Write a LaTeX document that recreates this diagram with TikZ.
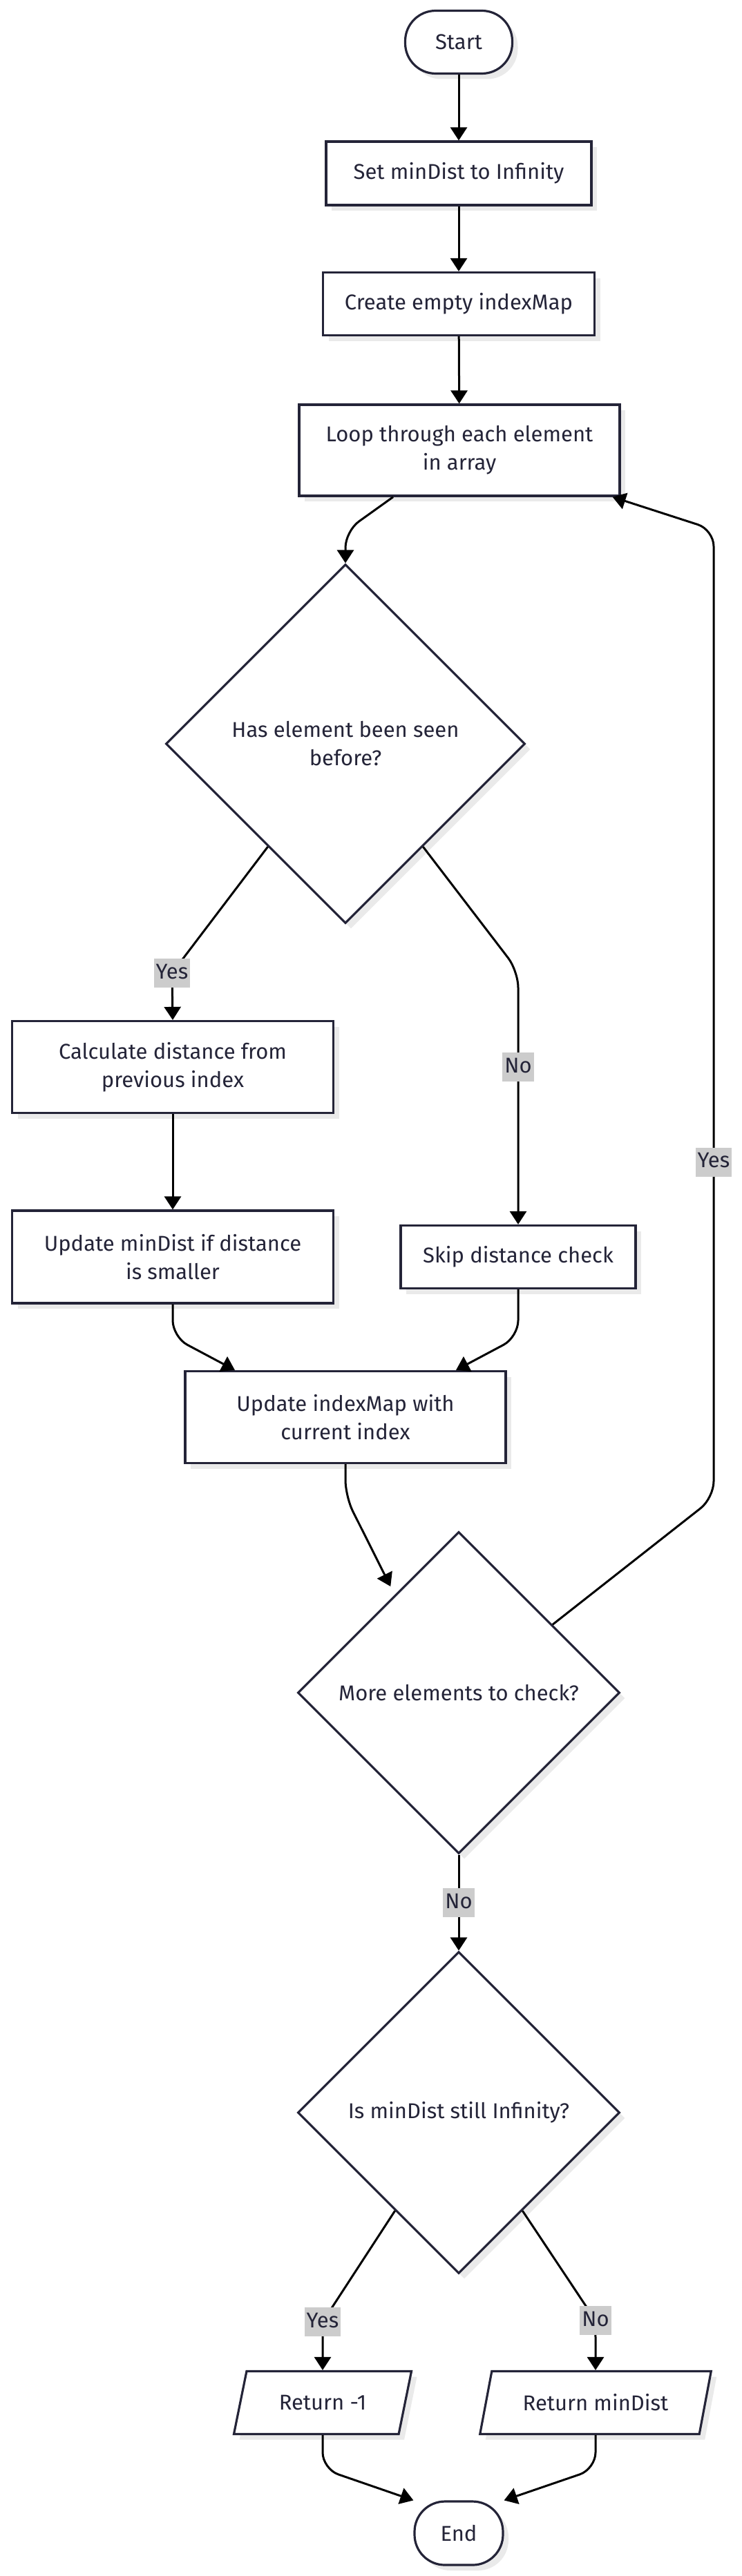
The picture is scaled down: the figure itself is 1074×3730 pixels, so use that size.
\documentclass[tikz,border=0pt]{standalone}
\usepackage{fontspec}
\setmainfont{Fira Sans}
\usetikzlibrary{arrows.meta,shapes.geometric,shadows}
\definecolor{inkline}{RGB}{36,36,56}
\definecolor{shadowgray}{RGB}{234,234,234}
\definecolor{labelgray}{RGB}{204,204,204}

\begin{document}
\begin{tikzpicture}[x=0.5pt,y=-0.5pt,
    font=\fontsize{15.5pt}{20.5pt}\selectfont,
    box/.style={draw=inkline, text=inkline, line width=1.6pt, fill=white,
      align=center, inner sep=0pt,
      drop shadow={shadow xshift=4pt, shadow yshift=-4pt, fill=shadowgray, opacity=1}},
    process/.style={box, rectangle},
    terminal/.style={box, rectangle, rounded corners=22pt, minimum height=45.5pt},
    decision/.style={box, diamond, aspect=1},
    io/.style={box, trapezium, trapezium left angle=64, trapezium right angle=116,
      trapezium stretches=true, minimum height=45.5pt},
    flow/.style={line width=1.5pt, black, rounded corners=12pt,
      -{Triangle[length=9.5pt,width=12pt]}},
    lbl/.style={fill=labelgray, text=inkline, sharp corners, inner xsep=1.5pt,
      inner ysep=4pt, text height=10.5pt, text depth=2.5pt}]
  \useasboundingbox (0,0) rectangle (1074,3730);

  \node (start) at (664,61) [terminal, minimum width=77.5pt] {Start};
  \node (setmin) at (664,251)
    [process, minimum width=192pt, minimum height=46pt] {Set minDist to Infinity};
  \node (mkmap) at (664,440)
    [process, minimum width=196.5pt, minimum height=45.5pt] {Create empty indexMap};
  \node (loop) at (665,652)
    [process, minimum width=232pt, minimum height=66pt] {Loop through each element\\in array};
  \node (seen) at (500,1077)
    [decision, minimum size=260pt] {Has element been seen\\before?};
  \node (calc) at (250,1545)
    [process, minimum width=232.5pt, minimum height=66.5pt] {Calculate distance from\\previous index};
  \node (upmin) at (250,1820)
    [process, minimum width=232.5pt, minimum height=67pt] {Update minDist if distance\\is smaller};
  \node (skip) at (750,1820)
    [process, minimum width=170pt, minimum height=45.5pt] {Skip distance check};
  \node (upmap) at (500,2052)
    [process, minimum width=232pt, minimum height=66.5pt] {Update indexMap with\\current index};
  \node (more) at (664,2451)
    [decision, minimum size=233pt] {More elements to check?};
  \node (mininf) at (664,3059)
    [decision, minimum size=233pt] {Is minDist still Infinity?};
  \node (retneg) at (467,3479) [io, minimum width=129pt] {Return -1};
  \node (retmin) at (862,3479) [io, minimum width=167.5pt] {Return minDist};
  \node (finish) at (664,3668)
    [terminal, minimum width=64pt, minimum height=46pt] {End};

  \draw [flow] (start) -- (setmin);
  \draw [flow] (setmin) -- (mkmap);
  \draw [flow] (mkmap) -- (loop);
  \draw [flow] ([xshift=-48pt]loop.south) -- (500,769) -- (seen.north);
  \draw [flow] (seen.233) -- (249,1409) node[lbl] {Yes} -- (calc.north);
  \draw [flow] (seen.307) -- (750,1406) -- (skip.north) node[lbl,pos=0.38] {No};
  \draw [flow] (calc) -- (upmin);
  \draw [flow] (upmin.south) -- (250,1936) -- ([xshift=-80pt]upmap.north);
  \draw [flow] (skip.south) -- (750,1936) -- ([xshift=80pt]upmap.north);
  \draw [flow] (upmap.south) -- (500,2167) -- ([yshift=9pt]more.126);
  \draw [flow] (more.36) -- (1033,2169) -- (1033,767) node[lbl,pos=0.347] {Yes}
    -- ([xshift=-6pt]loop.south east);
  \draw [flow] (more.south) -- (mininf.north) node[lbl,midway] {No};
  \draw [flow] (mininf.237) -- (467,3362) node[lbl] {Yes} -- (retneg.north);
  \draw [flow] (mininf.303) -- (862,3360) node[lbl] {No} -- (retmin.north);
  \draw [flow] (retneg.south) -- (467,3575) -- (finish.north west);
  \draw [flow] (retmin.south) -- (862,3575) -- (finish.north east);
\end{tikzpicture}
\end{document}
